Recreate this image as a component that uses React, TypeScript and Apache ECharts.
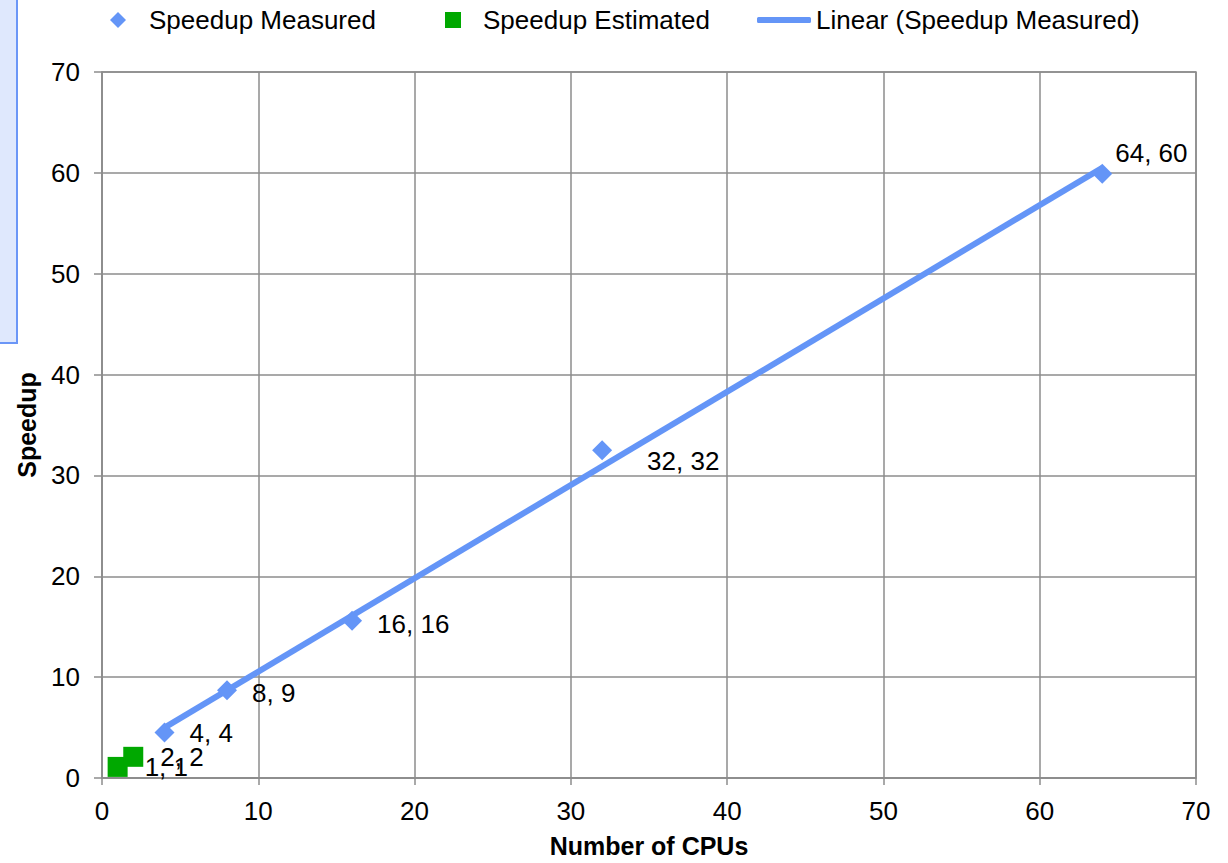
import React, { useEffect, useRef } from "react";
import * as echarts from "echarts";

const cpusMeasured = [4, 8, 16, 32, 64];
const speedupMeasured = [4.5, 8.7, 15.6, 32.5, 59.9];
const measuredLabels = ["4, 4", "8, 9", "16, 16", "32, 32", "64, 60"];
const cpusEstimated = [1, 2];
const speedupEstimated = [1.1, 2.1];
const estimatedLabels = ["1, 1", "2, 2"];
const trendX = [4, 64];
const trendY = [5.0, 60.5];

const FONT = "Liberation Sans, Arial, sans-serif";
const BLUE = "#6495f7";
const GREEN = "#00a800";
const GRIDC = "#8c8c8c";
const FS = 26;

export default function App() {
  const ref = useRef<HTMLDivElement>(null);
  useEffect(() => {
    if (!ref.current) return;
    const chart = echarts.init(ref.current, undefined, { renderer: "svg", width: 1228, height: 863 });
    const labelOffsets: Record<string, number[]> = {
      "8, 9": [0, 3],
      "16, 16": [0, 3],
      "32, 32": [20, 11],
      "64, 60": [-12, -21],
    };
    const measuredData = cpusMeasured.map((x, i) => {
      const lbl = measuredLabels[i];
      const off = labelOffsets[lbl] || [0, 0];
      return {
        value: [x, speedupMeasured[i]],
        label: { offset: off },
      };
    });
    const estimatedData = cpusEstimated.map((x, i) => [x, speedupEstimated[i]]);
    const legendText = { fontSize: FS, fontFamily: FONT, color: "#000" };
    chart.setOption({
      animation: false,
      textStyle: { fontFamily: FONT },
      grid: { left: 102, right: 32, top: 72, bottom: 80, containLabel: false, show: true, borderColor: GRIDC, borderWidth: 1.5 },
      legend: [
        {
          data: [{ name: "Speedup Measured", icon: "diamond" }],
          left: 105,
          top: 2,
          itemWidth: 16,
          itemHeight: 16,
          textStyle: { ...legendText, padding: [0, 0, 0, 18] },
        },
        {
          data: [{ name: "Speedup Estimated", icon: "rect" }],
          left: 440,
          top: 2,
          itemWidth: 16,
          itemHeight: 16,
          textStyle: { ...legendText, padding: [0, 0, 0, 17] },
        },
        {
          data: [{ name: "Linear (Speedup Measured)", icon: "roundRect" }],
          left: 752,
          top: 2,
          itemWidth: 54,
          itemHeight: 6,
          itemStyle: { color: BLUE, borderWidth: 0 },
          textStyle: legendText,
        },
      ],
      xAxis: {
        type: "value",
        min: 0,
        max: 70,
        interval: 10,
        name: "Number of CPUs",
        nameLocation: "middle",
        nameGap: 55,
        nameTextStyle: { fontSize: 25, fontWeight: "bold", color: "#000", fontFamily: FONT, verticalAlign: "top" },
        axisLine: { show: true, lineStyle: { color: GRIDC, width: 1.5 } },
        axisTick: { show: true, length: 7, lineStyle: { color: GRIDC, width: 1.5 } },
        axisLabel: { fontSize: FS, color: "#000", margin: 20, fontFamily: FONT },
        splitLine: { show: true, lineStyle: { color: GRIDC, width: 1.5 } },
      },
      yAxis: {
        type: "value",
        min: 0,
        max: 70,
        interval: 10,
        name: "Speedup",
        nameLocation: "middle",
        nameGap: 63,
        nameTextStyle: { fontSize: 25, fontWeight: "bold", color: "#000", fontFamily: FONT },
        axisLine: { show: true, lineStyle: { color: GRIDC, width: 1.5 } },
        axisTick: { show: true, length: 8, lineStyle: { color: GRIDC, width: 1.5 } },
        axisLabel: { fontSize: FS, color: "#000", margin: 22, fontFamily: FONT },
        splitLine: { show: true, lineStyle: { color: GRIDC, width: 1.5 } },
      },
      series: [
        {
          name: "Linear (Speedup Measured)",
          type: "line",
          data: trendX.map((x, i) => [x, trendY[i]]),
          symbol: "none",
          lineStyle: { color: BLUE, width: 6 },
          itemStyle: { color: BLUE },
          z: 2,
        },
        {
          name: "Speedup Measured",
          type: "scatter",
          symbol: "diamond",
          symbolSize: 20,
          data: measuredData,
          itemStyle: { color: BLUE, opacity: 1 },
          label: {
            show: true,
            position: "right",
            distance: 15,
            fontSize: FS,
            color: "#000",
            fontFamily: FONT,
            formatter: (p: any) => measuredLabels[p.dataIndex],
          },
          z: 3,
        },
        {
          name: "Speedup Estimated",
          type: "scatter",
          symbol: "rect",
          symbolSize: 20,
          data: estimatedData,
          itemStyle: { color: GREEN, opacity: 1 },
          label: {
            show: true,
            position: "right",
            distance: 17,
            fontSize: FS,
            color: "#000",
            fontFamily: FONT,
            formatter: (p: any) => estimatedLabels[p.dataIndex],
          },
          z: 3,
        },
      ],
      graphic: [
        {
          type: "rect",
          shape: { x: -10, y: -10, width: 27, height: 353 },
          style: { fill: "#dfe8fd", stroke: "#6b96f7", lineWidth: 2 },
          z: 0,
        },
      ],
    });
    return () => chart.dispose();
  }, []);
  return <div ref={ref} style={{ width: 1228, height: 863, position: "absolute", left: 0, top: 0 }} />;
}
